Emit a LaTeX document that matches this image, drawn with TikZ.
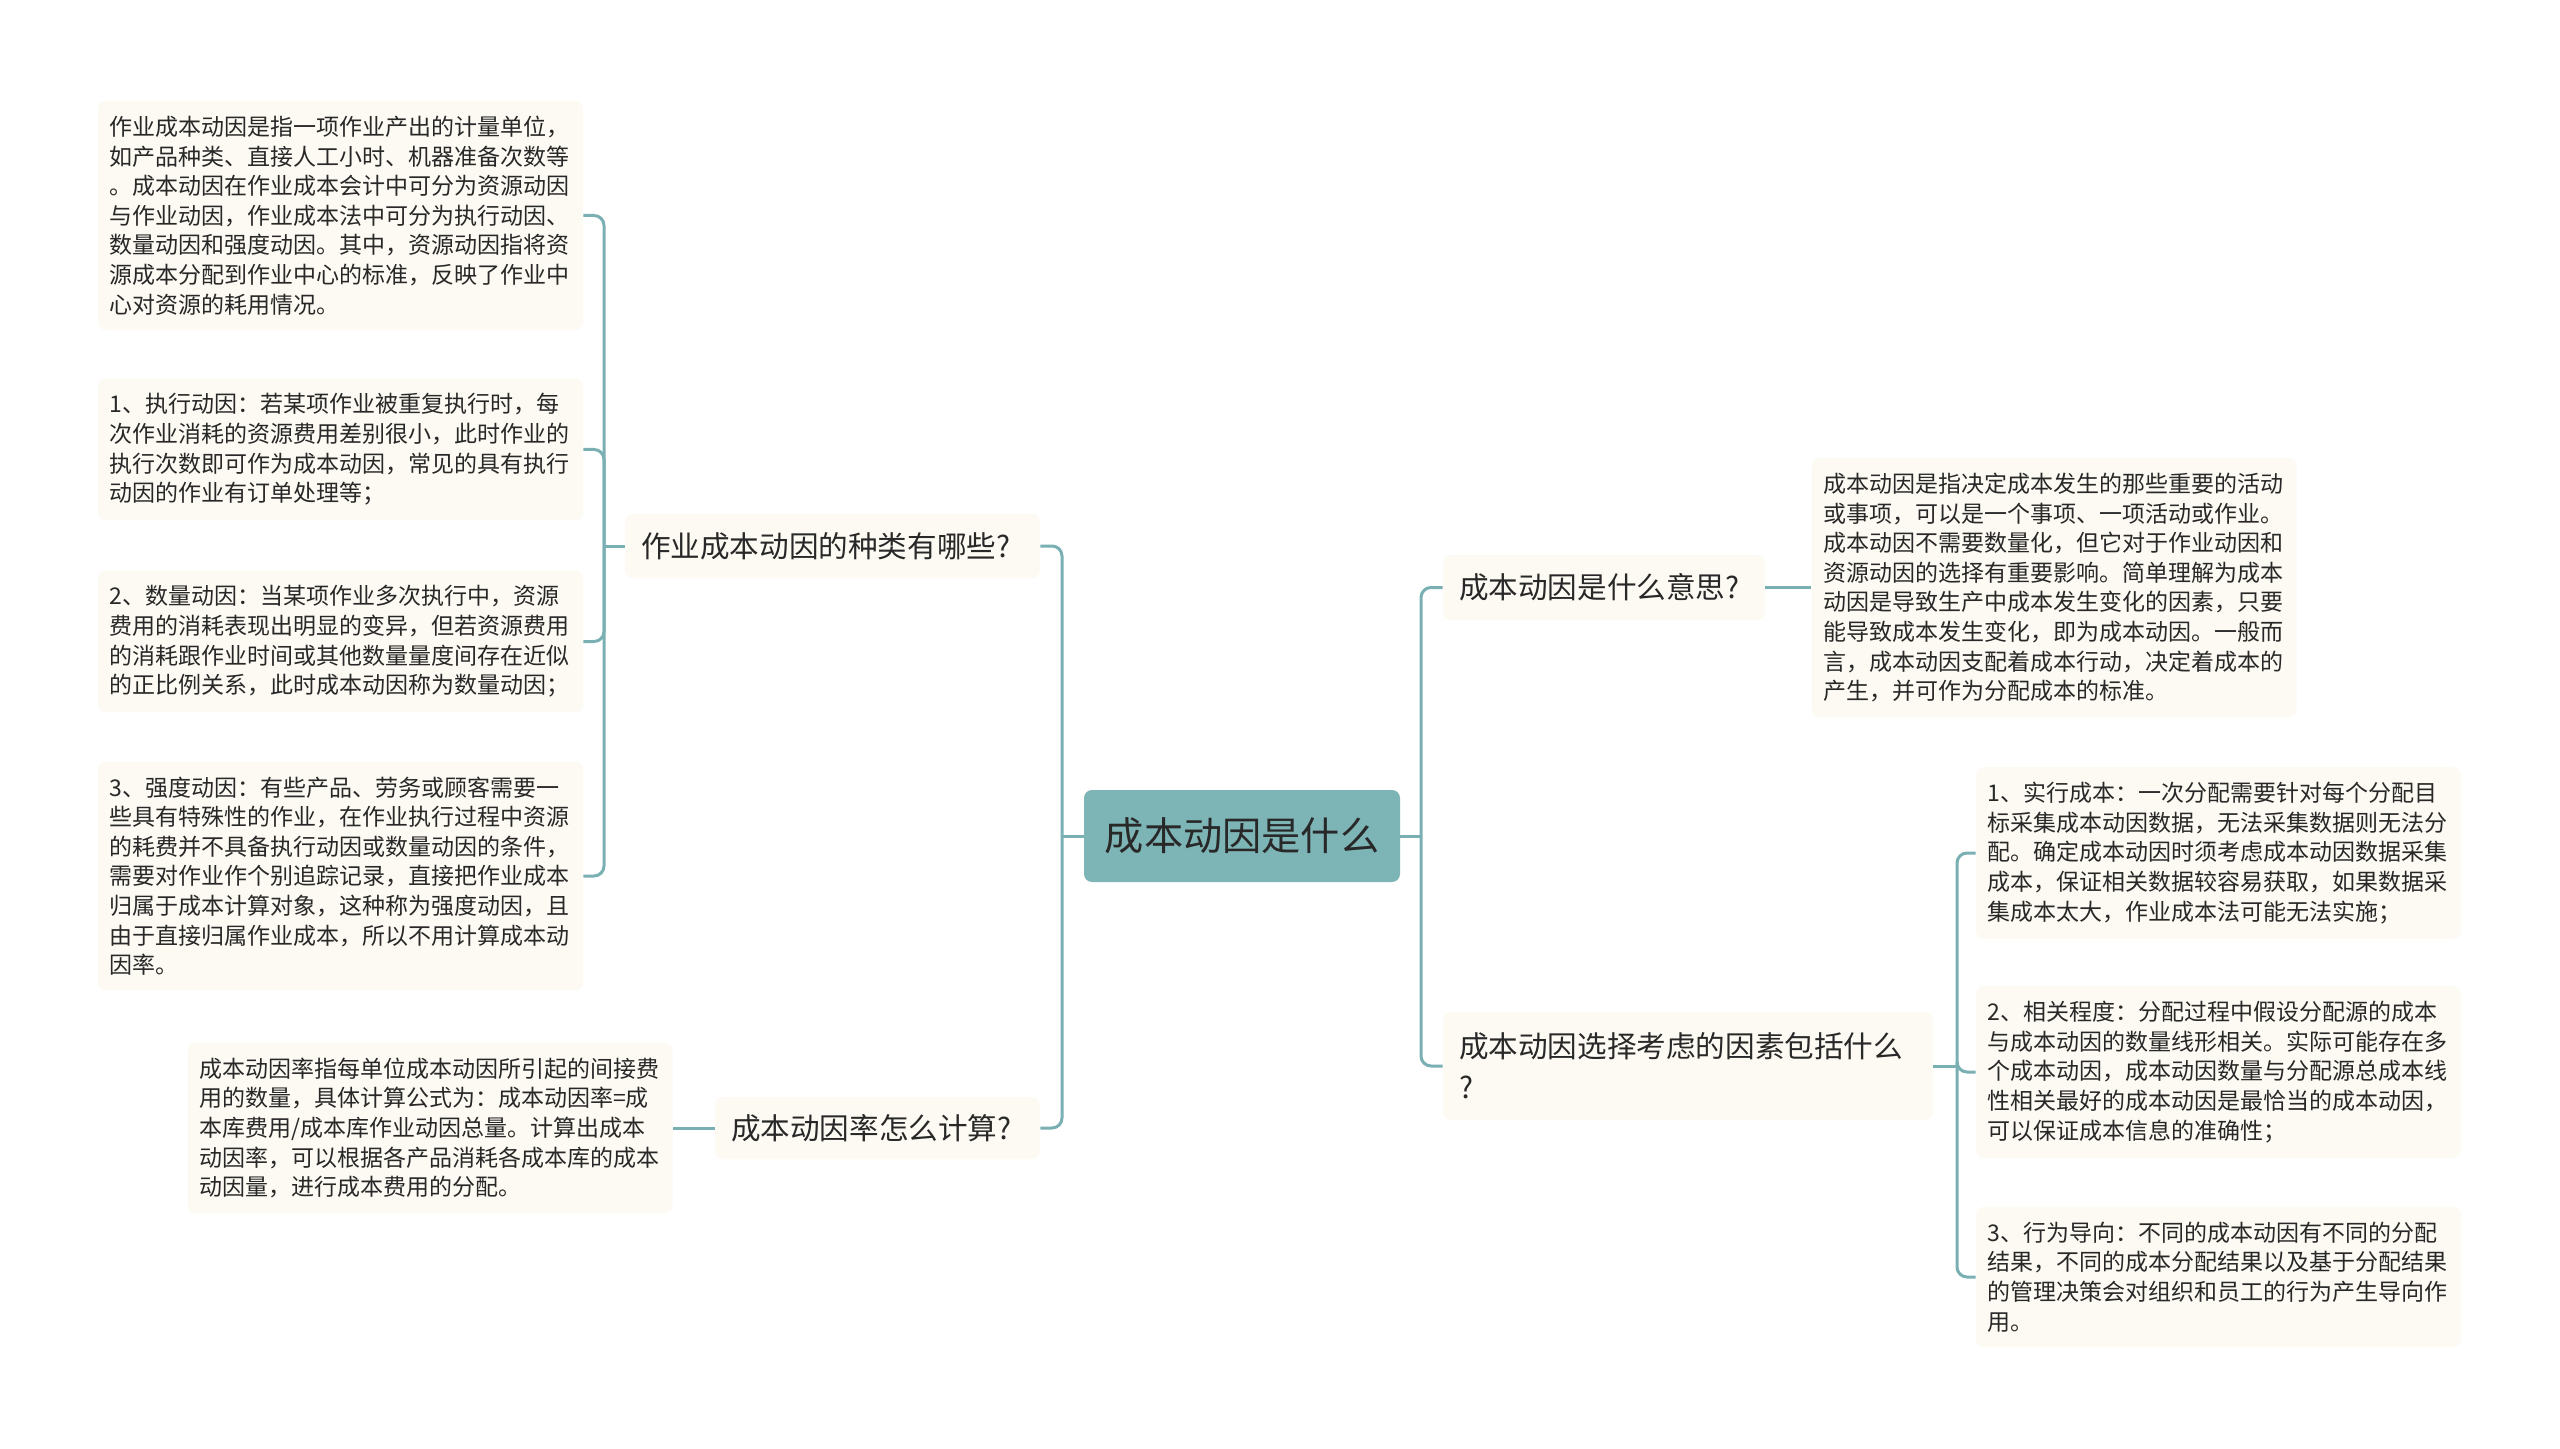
\documentclass[tikz,border=0pt]{standalone}
\usepackage{fontspec}
\setmainfont{Noto Sans CJK SC}
\usepackage{tikz}
\definecolor{linkcol}{RGB}{122,176,180}
\definecolor{rootcol}{RGB}{125,180,182}
\definecolor{notecol}{RGB}{252,250,242}
\definecolor{inkcol}{RGB}{40,40,40}
\tikzset{
  root/.style={fill=rootcol,rounded corners=4pt,text=inkcol,font=\fontsize{19.6}{24}\selectfont,minimum width=158pt,minimum height=46pt,inner sep=0pt},
  topic/.style={fill=notecol,rounded corners=4pt,text=inkcol,font=\fontsize{14.8}{20.4}\selectfont,align=left,inner xsep=8pt,inner ysep=0pt},
  note/.style={fill=notecol,rounded corners=4pt,text=inkcol,font=\fontsize{11.5}{14.8}\selectfont,align=left,text width=231pt,inner xsep=5.75pt,inner ysep=7.5pt},
  link/.style={draw=linkcol,line width=1.5pt,rounded corners=5pt}
}
\begin{document}
\begin{tikzpicture}[x=0.5pt,y=-0.5pt]
\fill[white] (0,0) rectangle (2560,1449);
\useasboundingbox (0,0) rectangle (2560,1449);

\node[root] (main) at (1242,836) {成本动因是什么};

\node[topic,text width=191.5pt,minimum height=32pt] (kinds) at (832.5,546) {作业成本动因的种类有哪些?};
\node[topic,text width=146.5pt,minimum height=31pt] (rate) at (877.5,1128) {成本动因率怎么计算?};
\node[topic,text width=145pt,minimum height=32.5pt] (meaning) at (1604,587.5) {成本动因是什么意思?};
\node[topic,text width=229pt,minimum height=54pt] (factors) at (1688,1066) {成本动因选择考虑的因素包括什么\\?};

\node[note] (kinds0) at (340.5,215.5) {作业成本动因是指一项作业产出的计量单位，\\如产品种类、直接人工小时、机器准备次数等\\。成本动因在作业成本会计中可分为资源动因\\与作业动因，作业成本法中可分为执行动因、\\数量动因和强度动因。其中，资源动因指将资\\源成本分配到作业中心的标准，反映了作业中\\心对资源的耗用情况。};
\node[note] (kinds1) at (340.5,449.5) {1、执行动因：若某项作业被重复执行时，每\\次作业消耗的资源费用差别很小，此时作业的\\执行次数即可作为成本动因，常见的具有执行\\动因的作业有订单处理等；};
\node[note] (kinds2) at (340.5,641.5) {2、数量动因：当某项作业多次执行中，资源\\费用的消耗表现出明显的变异，但若资源费用\\的消耗跟作业时间或其他数量量度间存在近似\\的正比例关系，此时成本动因称为数量动因；};
\node[note] (kinds3) at (340.5,876) {3、强度动因：有些产品、劳务或顾客需要一\\些具有特殊性的作业，在作业执行过程中资源\\的耗费并不具备执行动因或数量动因的条件，\\需要对作业作个别追踪记录，直接把作业成本\\归属于成本计算对象，这种称为强度动因，且\\由于直接归属作业成本，所以不用计算成本动\\因率。};
\node[note] (rate0) at (430,1128) {成本动因率指每单位成本动因所引起的间接费\\用的数量，具体计算公式为：成本动因率=成\\本库费用/成本库作业动因总量。计算出成本\\动因率，可以根据各产品消耗各成本库的成本\\动因量，进行成本费用的分配。};
\node[note] (meaning0) at (2054,587.5) {成本动因是指决定成本发生的那些重要的活动\\或事项，可以是一个事项、一项活动或作业。\\成本动因不需要数量化，但它对于作业动因和\\资源动因的选择有重要影响。简单理解为成本\\动因是导致生产中成本发生变化的因素，只要\\能导致成本发生变化，即为成本动因。一般而\\言，成本动因支配着成本行动，决定着成本的\\产生，并可作为分配成本的标准。};
\node[note] (factors1) at (2218.5,853) {1、实行成本：一次分配需要针对每个分配目\\标采集成本动因数据，无法采集数据则无法分\\配。确定成本动因时须考虑成本动因数据采集\\成本，保证相关数据较容易获取，如果数据采\\集成本太大，作业成本法可能无法实施；};
\node[note] (factors2) at (2218.5,1072) {2、相关程度：分配过程中假设分配源的成本\\与成本动因的数量线形相关。实际可能存在多\\个成本动因，成本动因数量与分配源总成本线\\性相关最好的成本动因是最恰当的成本动因，\\可以保证成本信息的准确性；};
\node[note] (factors3) at (2218.5,1277) {3、行为导向：不同的成本动因有不同的分配\\结果，不同的成本分配结果以及基于分配结果\\的管理决策会对组织和员工的行为产生导向作\\用。};

\coordinate (jmainL) at (1062,836);
\coordinate (jmainR) at (1421,836);
\coordinate (jkinds) at (604,546);
\coordinate (jfactors) at (1957,1066);

\draw[link] (main.west) -- (jmainL);
\draw[link] (jmainL) |- (kinds.east);
\draw[link] (jmainL) |- (rate.east);
\draw[link] (main.east) -- (jmainR);
\draw[link] (jmainR) |- (meaning.west);
\draw[link] (jmainR) |- (factors.west);

\draw[link] (kinds.west) -- (jkinds);
\foreach \k in {kinds0,kinds1,kinds2,kinds3}
  \draw[link] (jkinds) |- (\k.east);
\draw[link] (rate.west) -- (rate0.east);
\draw[link] (meaning.east) -- (meaning0.west);
\draw[link] (factors.east) -- (jfactors);
\foreach \k in {factors1,factors2,factors3}
  \draw[link] (jfactors) |- (\k.west);
\end{tikzpicture}
\end{document}
